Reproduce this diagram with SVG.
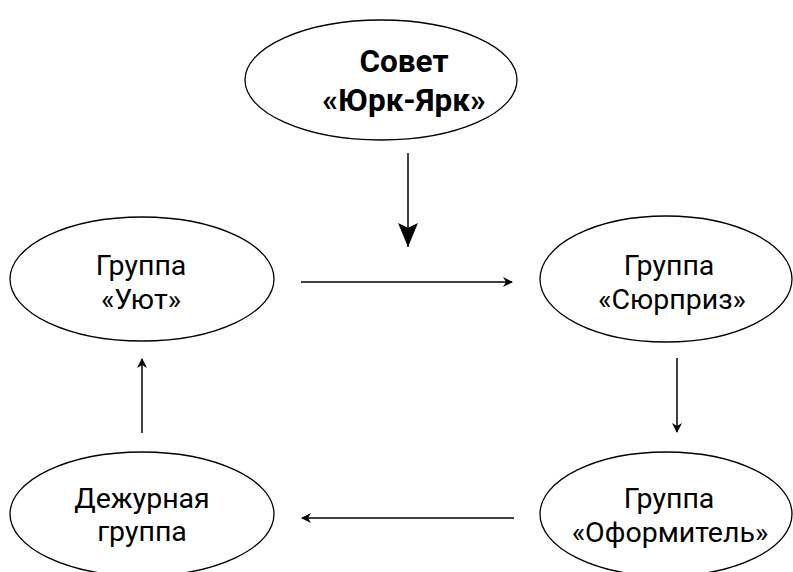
<svg xmlns="http://www.w3.org/2000/svg" width="793" height="572" viewBox="0 0 793 572">
<defs>
<marker id="ah" viewBox="0 0 10 10" refX="9" refY="5" markerWidth="11" markerHeight="10" markerUnits="userSpaceOnUse" orient="auto">
<path d="M0,0 L10,5 L0,10 L3,5 z" fill="#000"/>
</marker>
<marker id="ahb" viewBox="0 0 10 10" refX="10" refY="5" markerWidth="24" markerHeight="20" markerUnits="userSpaceOnUse" orient="auto" preserveAspectRatio="none">
<path d="M0,0 L10,5 L0,10 L2,5 z" fill="#000"/>
</marker>
<style>
.n{fill:#fff;stroke:#000;stroke-width:1.3}
.t{font-family:Roboto,"Liberation Sans",sans-serif;font-size:28.5px;fill:#000;text-anchor:middle}
.b{font-weight:bold;font-size:31.5px}
.c{stroke:#000;stroke-width:1.5;fill:none}
</style>
</defs>
<rect width="793" height="572" fill="#fff"/>
<g id="sovet">
<ellipse class="n" cx="381" cy="80" rx="136" ry="60"/>
<text class="t b" x="404" y="72">Совет</text>
<text class="t b" x="404" y="111">«Юрк-Ярк»</text>
</g>
<g id="uyut">
<ellipse class="n" cx="142" cy="279" rx="132" ry="62"/>
<text class="t" x="141" y="275">Группа</text>
<text class="t" x="141" y="309">«Уют»</text>
</g>
<g id="surpriz">
<ellipse class="n" cx="666" cy="279" rx="126" ry="63"/>
<text class="t" x="669" y="275">Группа</text>
<text class="t" x="672" y="309">«Сюрприз»</text>
</g>
<g id="oformitel">
<ellipse class="n" cx="666" cy="514" rx="126" ry="62"/>
<text class="t" x="669" y="508">Группа</text>
<text class="t" x="670" y="542">«Оформитель»</text>
</g>
<g id="dezhurnaya">
<ellipse class="n" cx="142" cy="514" rx="132" ry="62"/>
<text class="t" x="142" y="508">Дежурная</text>
<text class="t" x="142" y="541">группа</text>
</g>
<g id="connectors">
<line class="c" x1="408" y1="153" x2="408" y2="247" stroke-width="5" marker-end="url(#ahb)"/>
<line class="c" x1="301" y1="282" x2="512" y2="282" marker-end="url(#ah)"/>
<line class="c" x1="677" y1="358" x2="677" y2="432" marker-end="url(#ah)"/>
<line class="c" x1="514" y1="518" x2="302" y2="518" marker-end="url(#ah)"/>
<line class="c" x1="142" y1="433" x2="142" y2="359" marker-end="url(#ah)"/>
</g>
</svg>
